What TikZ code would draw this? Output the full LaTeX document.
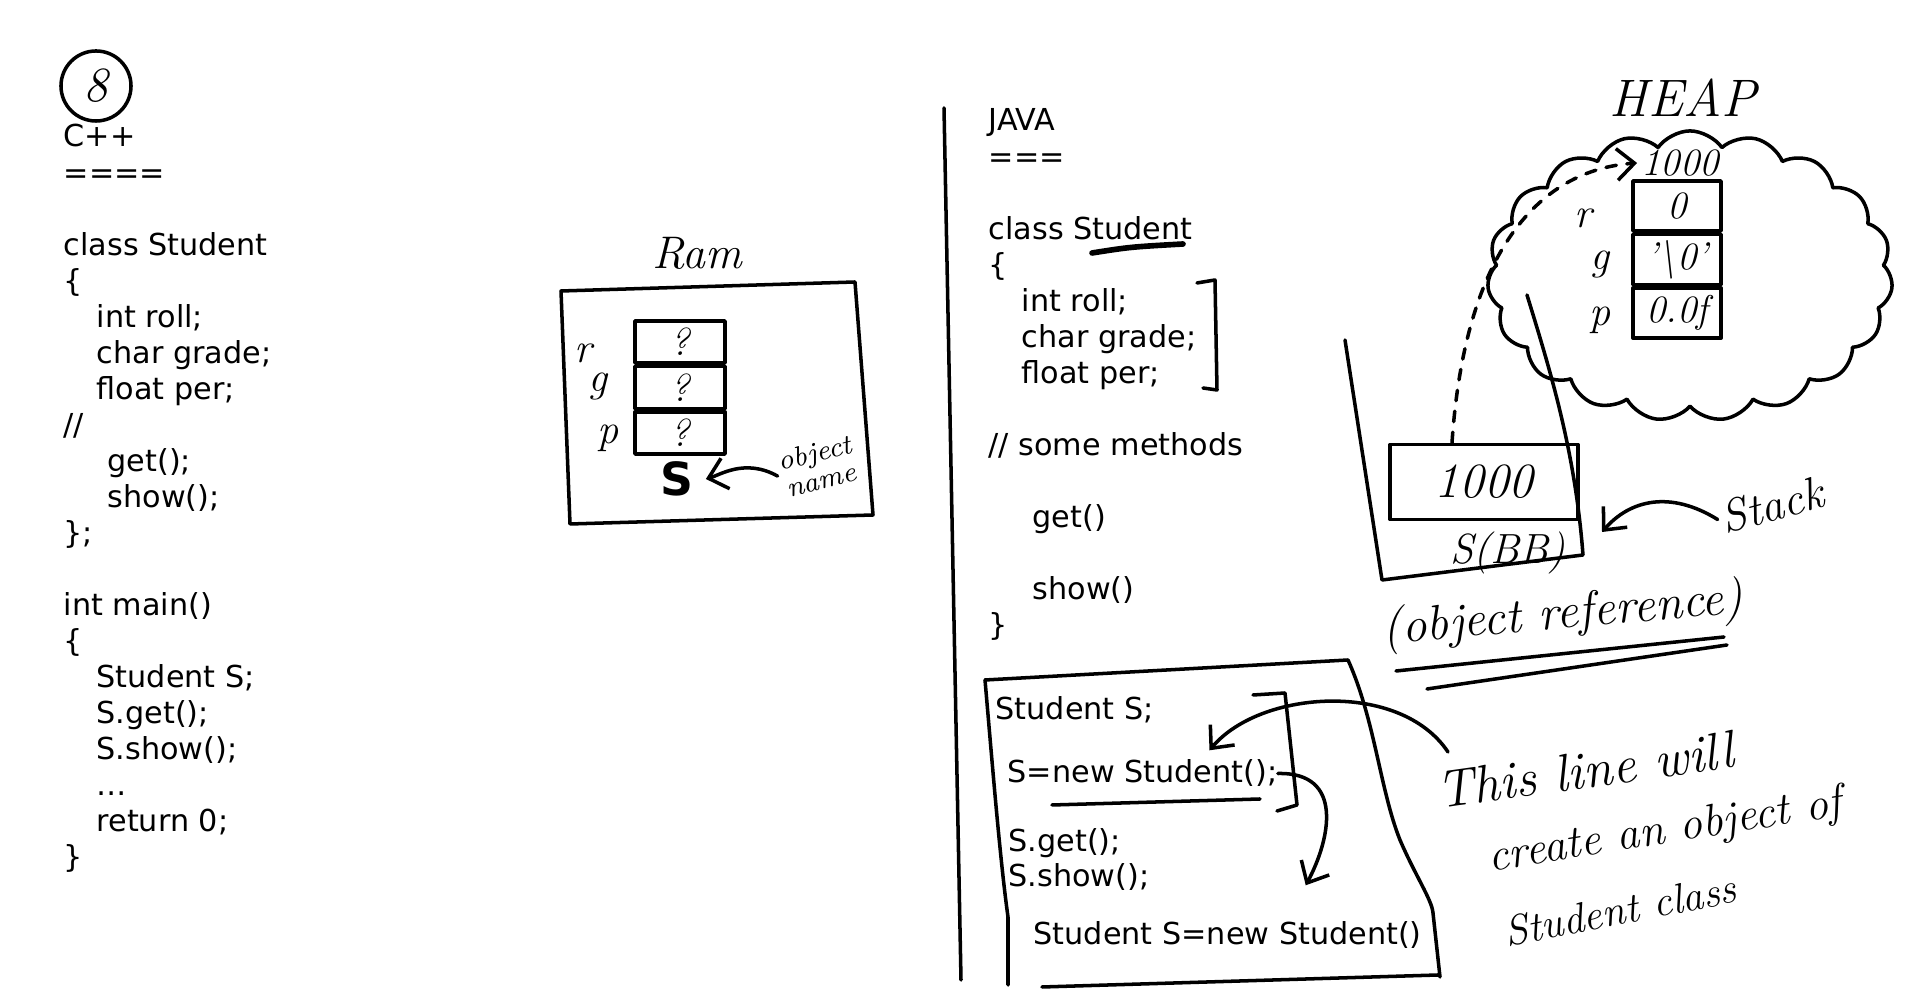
\documentclass[tikz,border=0pt]{standalone}
\usepackage{fontspec}
\setsansfont{DejaVu Sans}
\usetikzlibrary{arrows.meta,positioning,calc,shapes.symbols}

\tikzset{
  code/.style={font=\sffamily\fontsize{8.6}{10.3}\selectfont, inner sep=0pt, anchor=base west},
  hand/.style={line width=1pt, line cap=round, line join=round},
  script/.style={font=\itshape\fontsize{#1}{#1}\selectfont, inner sep=1pt},
  script/.default=13,
  ramcell/.style={draw, hand, minimum width=0.9cm, minimum height=0.42cm, inner sep=0pt, script=11},
  heapcell/.style={draw, hand, minimum width=0.88cm, minimum height=0.5cm, inner sep=0pt, script=11},
}

\begin{document}
\begin{tikzpicture}[x=0.01cm, y=-0.01cm, >={Straight Barb[length=5pt,width=9pt]}]
  \useasboundingbox (0,0) rectangle (1920,1001);

  % C++ side
  \node[draw, circle, hand, minimum size=0.7cm, inner sep=0pt, script=14] (num) at (96,86) {8};
  \foreach \txt/\xx/\i in {C++/63/0, ====/63/1, class Student/63/3, \{/63/4,
      int roll;/96/5, char grade;/96/6, float per;/96/7, {//}/63/8, get();/107/9,
      show();/107/10, \};/63/11, int main()/63/13, \{/63/14, Student S;/96/15,
      S.get();/96/16, S.show();/96/17, {\ldots}/96/18, return 0;/96/19, \}/63/20}
    \node[code] (cpp\i) at (\xx,147+36.05*\i) {\txt};

  % ram with the object S
  \node[script] (ram) at (697,253) {Ram};
  \draw[hand] (561,291) -- (855,282) -- (873,515) -- (570,524) -- cycle;
  \node[ramcell] (cr) at (680,342) {?};
  \node[ramcell, below=0pt of cr] (cg) {?};
  \node[ramcell, below=0pt of cg] (cp) {?};
  \node[script=12] (rr) at (583,353) {r};
  \node[script=12] (rg) at (598,387) {g};
  \node[script=12] (rp) at (608,438) {p};
  \node[font=\sffamily\bfseries\fontsize{13}{13}\selectfont] (sname) at (677,479) {S};
  \node[script=8, align=center, rotate=14] (objname) at (818,466) {object\\name};
  \draw[hand, ->] (objname.west) .. controls (745,458) and (720,475) .. (sname.east);

  % divider
  \draw[hand] (944,108) -- (961,980);

  % Java side
  \foreach \txt/\xx/\i in {JAVA/988/0, ===/988/1, class Student/988/3, \{/988/4,
      int roll;/1021/5, char grade;/1021/6, float per;/1021/7,
      {// some methods}/988/9, get()/1032/11, show()/1032/13, \}/988/14}
    \node[code] (java\i) at (\xx,131+36.05*\i) {\txt};
  \draw[hand, line width=1.6pt] (1092,253) .. controls (1130,247) .. (1183,244);
  \draw[hand] (1197,283) -- (1215,280) -- (1217,390) -- (1203,388);

  % main box
  \draw[hand] (985,680) -- (1348,660) .. controls (1375,720) and (1380,790) .. (1400,840)
    .. controls (1415,875) and (1432,900) .. (1433,913) -- (1440,977);
  \draw[hand] (985,680) .. controls (992,760) and (1000,860) .. (1008,917) -- (1008,985);
  \draw[hand] (1042,987) -- (1438,975);
  \foreach \txt/\xx/\yy [count=\k] in {Student S;/995/720, S=new Student();/1007/783,
      S.get();/1008/852, S.show();/1008/887, Student S=new Student()/1033/945}
    \node[code] (jmain\k) at (\xx,\yy) {\txt};
  \draw[hand] (1052,805) -- (1260,799);
  \draw[hand] (1253,695) -- (1285,693) -- (1297,805) -- (1277,811);
  \draw[hand, ->] (jmain2.east) .. controls (1345,772) and (1330,840) .. ([xshift=0.78cm, yshift=0.36cm]jmain5.north);

  % note
  \node[script=15, rotate=8] (note1) at (1585,770) {This line will};
  \node[script=13, rotate=9] (note2) at (1665,832) {create an object of};
  \node[script=12, rotate=11] (note3) at (1620,910) {Student class};
  \coordinate (notetip) at (1448,752);
  \draw[hand, ->] (notetip) .. controls (1400,680) and (1260,690) .. ([xshift=0.67cm, yshift=0.09cm]jmain2.north);

  % heap
  \node[script=15] (heaplbl) at (1683,98) {HEAP};
  \node[cloud, draw, hand, cloud puffs=19, cloud puff arc=110, aspect=1.36,
        minimum width=4.05cm, minimum height=2.9cm] (heap) at (1690,276) {};
  \node[script=11] (heapaddr) at (1680,163) {1000};
  \node[heapcell] (hr) at (1677,206) {0};
  \node[heapcell, below=0pt of hr] (hg) {'\textbackslash0'};
  \node[heapcell, below=0pt of hg] (hp) {0.0f};
  \node[script=12] (hlr) at (1583,218) {r};
  \node[script=12] (hlg) at (1600,265) {g};
  \node[script=12] (hlp) at (1600,320) {p};

  % stack
  \draw[hand] (1345,340) -- (1382,580) -- (1583,555) .. controls (1575,450) and (1550,370) .. (1527,295);
  \node[draw, hand, minimum width=1.88cm, minimum height=0.75cm, script=14] (refbox) at (1484,482) {1000};
  \node[script=12] (sref) at (1508,553) {S(BB)};
  \draw[hand, dashed, dash pattern=on 3pt off 3pt, ->] ($(refbox.north)+(-32,0)$)
    .. controls (1465,250) and (1540,170) .. (heapaddr.west);
  \node[script=13, rotate=15] (stacklbl) at (1772,505) {Stack};
  \draw[hand, ->] (stacklbl.west) .. controls (1670,490) and (1630,500) .. (1602,532);
  \node[script=14, rotate=5] (objref) at (1563,616) {(object reference)};
  \draw[hand] (1396,671) -- (1724,637);
  \draw[hand] (1427,689) -- (1727,645);
\end{tikzpicture}
\end{document}
